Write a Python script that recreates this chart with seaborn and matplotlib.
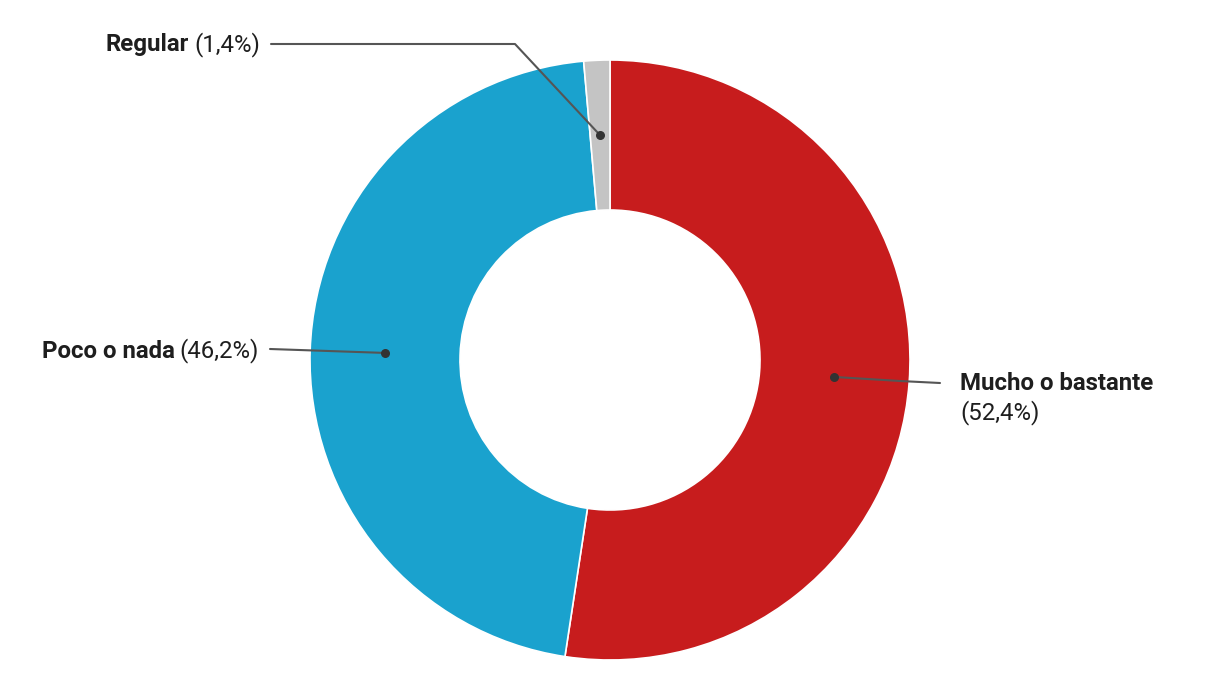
import numpy as np
import matplotlib
matplotlib.use("Agg")
import matplotlib.pyplot as plt
import seaborn as sns

# data
categories = ["Mucho o bastante", "Poco o nada", "Regular"]
values = [52.4, 46.2, 1.4]
pct_labels = ["(52,4%)", "(46,2%)", "(1,4%)"]
colors = ["#C71C1D", "#1AA2CE", "#C4C4C4"]

sns.set_theme(style="white")
plt.rcParams["font.family"] = ["Roboto", "DejaVu Sans"]

W, H = 1220, 700
fig = plt.figure(figsize=(W / 100, H / 100), dpi=100)
ax = fig.add_axes([0, 0, 1, 1])
ax.set_xlim(0, W)
ax.set_ylim(0, H)
ax.set_aspect("equal")
ax.axis("off")

cx, cy, R = 610, 340, 300
wedges, _ = ax.pie(values, colors=colors, startangle=90, counterclock=False,
                   center=(cx, cy), radius=R, frame=True,
                   wedgeprops=dict(width=150, edgecolor="white", linewidth=1.2))
ax.set_xlim(0, W)
ax.set_ylim(0, H)
ax.axis("off")

# anchor points at the middle of each wedge
anchors = []
for w in wedges:
    mid = np.deg2rad((w.theta1 + w.theta2) / 2)
    anchors.append((cx + 0.75 * R * np.cos(mid), cy + 0.75 * R * np.sin(mid)))

line_kw = dict(color="#555555", lw=1.5, zorder=3)
dot_kw = dict(color="#333333", s=30, zorder=4)
txt_color = "#1e1e1e"
fs = 17.3

# Mucho o bastante
ax_, ay_ = anchors[0]
ax.plot([ax_, 900, 940], [ay_, H - 381, H - 383], **line_kw)
ax.scatter([ax_], [ay_], **dot_kw)
ax.text(960, H - 384, categories[0], fontsize=fs, fontweight="bold",
        color=txt_color, ha="left", va="center")
ax.text(960, H - 413, pct_labels[0], fontsize=fs, color=txt_color,
        ha="left", va="center")

fig.canvas.draw()
renderer = fig.canvas.get_renderer()


def left_label(i, x_right, y):
    t = ax.text(x_right, y, pct_labels[i], fontsize=fs, color=txt_color,
                ha="right", va="center")
    bb = t.get_window_extent(renderer=renderer)
    ax.text(bb.x0 - 5, y, categories[i], fontsize=fs, fontweight="bold",
            color=txt_color, ha="right", va="center")


# Poco o nada
bx, by = anchors[1]
ax.plot([270, bx], [H - 349, by], **line_kw)
ax.scatter([bx], [by], **dot_kw)
left_label(1, 259, H - 351)

# Regular
gx, gy = anchors[2]
ax.plot([271, 515, gx], [H - 44, H - 44, gy], **line_kw)
ax.scatter([gx], [gy], **dot_kw)
left_label(2, 260, H - 45)

fig.savefig("out.png", dpi=100, facecolor="white")
